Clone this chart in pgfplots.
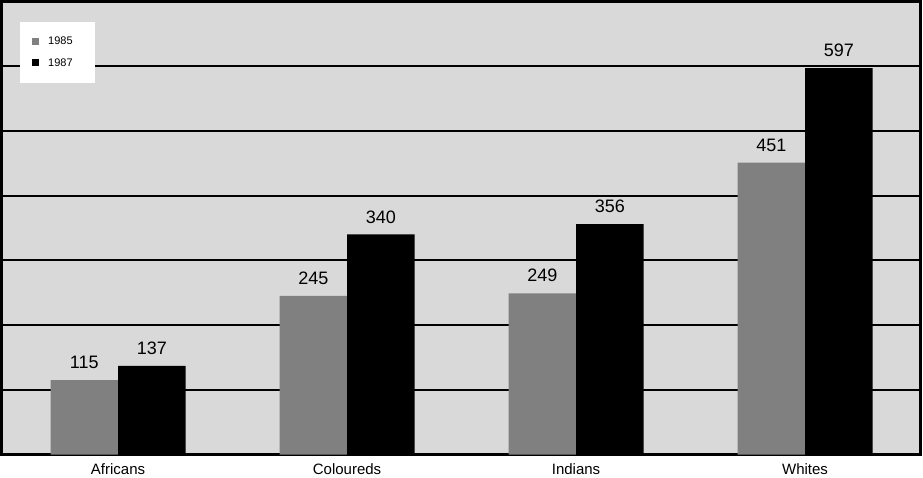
\documentclass[border=0pt]{standalone}
\usepackage{fontspec}
\setmainfont{Liberation Sans}
\usepackage{pgfplots}
\pgfplotsset{compat=1.18}
\definecolor{bggray}{HTML}{D9D9D9}
\definecolor{bargray}{HTML}{808080}
\begin{document}
\begin{tikzpicture}
\useasboundingbox (0,0) rectangle (923pt,-478pt);
\begin{axis}[
 at={(1.5pt,-1.5pt)}, anchor=north west,
 scale only axis, width=918.5pt, height=453pt,
 xmin=-0.509, xmax=3.502, ymin=0, ymax=700,
 axis background/.style={fill=bggray},
 axis line style={line width=3pt},
 ytick={100,200,...,600}, yticklabels={},
 ymajorgrids, major grid style={black, line width=2pt},
 xtick={0,1,2,3}, xticklabels={Africans,Coloureds,Indians,Whites},
 major tick length=0pt,
 xticklabel style={font=\fontsize{15}{17}\selectfont, inner sep=0pt, yshift=-9pt},
 ybar=0pt, bar width=67.5pt,
 nodes near coords,
 nodes near coords style={font=\fontsize{18}{20}\selectfont, inner sep=0pt, anchor=south, yshift=11pt},
 /pgf/number format/assume math mode=true,
 legend style={at={(0.0201,0.9547)}, anchor=north west, draw=none, fill=white,
   font=\fontsize{11}{12}\selectfont, inner xsep=12pt, inner ysep=15pt,
   row sep=12pt, column sep=0pt, nodes={inner sep=0pt}},
 legend cell align=left,
 legend image code/.code={\fill[#1,draw=none] (0pt,-3.5pt) rectangle (7pt,3.5pt);},
]
\addplot[fill=bargray, draw=none] coordinates {(0,115) (1,245) (2,249) (3,451)};
\addplot[fill=black, draw=none] coordinates {(0,137) (1,340) (2,356) (3,597)};
\legend{\hspace*{9pt}1985\hspace*{10.5pt}, \hspace*{9pt}1987\hspace*{10.5pt}}
\end{axis}
\end{tikzpicture}
\end{document}
